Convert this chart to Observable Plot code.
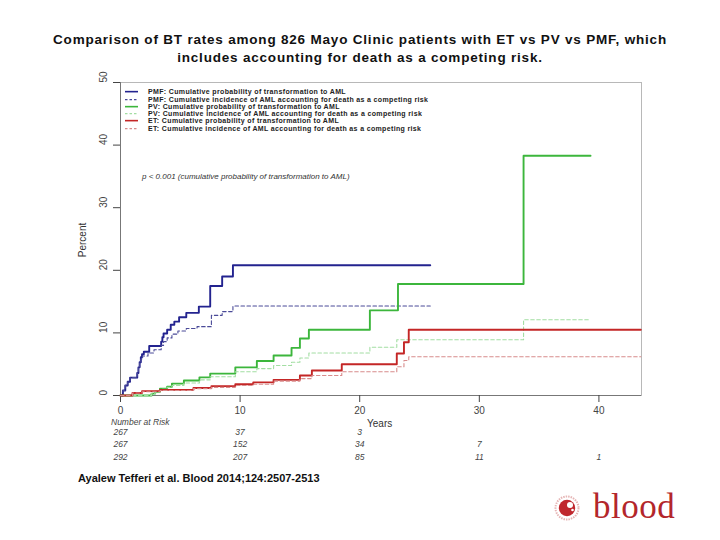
<!DOCTYPE html>
<html>
<head>
<meta charset="utf-8">
<script src="https://cdn.jsdelivr.net/npm/d3@7"></script>
<script src="https://cdn.jsdelivr.net/npm/@observablehq/plot@0.6"></script>
<style>
  body { margin: 0; background: #fff; }
  #wrap { position: relative; width: 720px; height: 540px; overflow: hidden; font-family: "Liberation Sans", Arial, sans-serif; }
  #chart { position: absolute; left: 0; top: 0; }
  .ov { position: absolute; white-space: nowrap; }
  #title { left: 0; top: 31px; width: 720px; text-align: center; font-weight: bold; font-size: 13.5px; letter-spacing: 0.8px; line-height: 18px; color: #111; white-space: normal; }
  #legend { left: 125px; top: 88.3px; font-size: 7px; letter-spacing: 0.35px; font-weight: bold; color: #222; }
  #legend .row { height: 7.3px; line-height: 7.3px; display: flex; align-items: center; }
  #legend svg { margin-right: 10px; flex: none; }
  #pval { left: 142px; top: 171px; font-size: 8px; font-style: italic; color: #333; line-height: 12px; }
  #years { left: 367px; top: 418px; font-size: 10px; color: #333; line-height: 12px; }
  #percent { left: 83px; top: 240px; font-size: 10px; color: #333; transform: translate(-50%, -50%) rotate(-90deg); line-height: 12px; }
  #nar { left: 111px; top: 418px; font-size: 8.5px; font-style: italic; color: #444; line-height: 8.5px; }
  #cite { left: 78px; top: 471px; font-size: 11px; font-weight: bold; color: #111; line-height: 14px; }
  #logo { left: 553px; top: 486px; }
</style>
</head>
<body>
<div id="wrap">
  <div id="chart"></div>
  <div class="ov" id="title">Comparison of BT rates among 826 Mayo Clinic patients with ET vs PV vs PMF, which<br>includes accounting for death as a competing risk.</div>
  <div class="ov" id="legend"></div>
  <div class="ov" id="pval">p &lt; 0.001 (cumulative probability of transformation to AML)</div>
  <div class="ov" id="years">Years</div>
  <div class="ov" id="percent">Percent</div>
  <div class="ov" id="nar">Number at Risk</div>
  <div class="ov" id="cite">Ayalew Tefferi et al. Blood 2014;124:2507-2513</div>
  <div class="ov" id="logo">
    <svg width="160" height="48" viewBox="0 0 160 48">
      <circle cx="14" cy="22" r="11.5" fill="none" stroke="#e6b5b5" stroke-width="2" stroke-dasharray="1.5 1"/>
      <circle cx="14" cy="22" r="8.2" fill="#c0272d"/>
      <circle cx="17" cy="19" r="3" fill="#fff"/>
      <circle cx="19.5" cy="24" r="1.3" fill="#fff"/>
      <text x="40" y="32" font-family="Liberation Serif, 'DejaVu Serif', serif" font-size="35" fill="#b3262b" letter-spacing="0.5">blood</text>
    </svg>
  </div>
</div>
<script>
// ---- Data ----
const yearTicks = [0, 10, 20, 30, 40];
const percentTicks = [0, 10, 20, 30, 40, 50];

// [years, percent] step-function points
const pmfProb = [[0,0],[0.2,0.8],[0.4,1.6],[0.6,2.2],[0.8,2.85],[1.4,3.6],[1.5,4.5],[1.6,5.3],[1.7,6.1],[1.8,6.6],[1.95,7.0],[2.4,7.9],[3.4,8.6],[3.5,9.3],[3.6,9.9],[3.9,10.5],[4.2,11.3],[4.5,11.8],[4.9,12.5],[5.5,13.2],[6.55,14.2],[7.5,17.5],[8.5,19.0],[9.4,20.8],[25.9,20.8]];
const pmfCI   = [[0,0],[0.2,0.8],[0.4,1.6],[0.6,2.2],[0.8,2.85],[1.4,3.6],[1.5,4.4],[1.6,5.2],[1.7,5.8],[1.85,6.3],[2.3,6.8],[2.8,7.3],[3.4,8.0],[3.6,8.6],[3.9,9.2],[4.3,9.8],[4.8,10.3],[5.5,10.7],[6.4,11.0],[7.6,12.8],[8.5,13.4],[9.4,14.3],[25.9,14.3]];
const pvProb  = [[0,0],[2.6,0.3],[2.9,0.6],[3.3,1.1],[3.9,1.4],[4.3,1.9],[5.3,2.4],[6.6,2.9],[7.5,3.5],[9.6,4.5],[11.4,5.5],[12.8,6.4],[14.3,7.6],[15.0,9.1],[15.75,10.5],[20.85,13.6],[23.2,17.8],[33.7,38.3],[39.3,38.3]];
const pvCI    = [[0,0],[2.6,0.3],[2.9,0.6],[3.3,1.0],[3.9,1.3],[4.3,1.6],[5.3,2.0],[6.6,2.5],[7.5,3.0],[9.6,3.8],[11.4,4.3],[12.8,4.8],[14.3,5.3],[15.0,6.0],[15.75,6.8],[20.85,7.7],[23.1,8.9],[33.7,12.1],[39.3,12.1]];
const etProb  = [[0,0],[1.0,0.4],[1.8,0.7],[3.3,0.9],[6.1,1.2],[7.6,1.5],[9.6,1.8],[11.1,2.1],[12.8,2.5],[15.0,3.2],[16.0,4.0],[18.5,5.0],[23.1,6.7],[23.7,8.5],[24.1,10.5],[43.5,10.5]];
const etCI    = [[0,0],[1.0,0.4],[1.8,0.6],[3.3,0.8],[6.1,1.1],[7.6,1.3],[9.6,1.6],[11.1,1.8],[12.8,2.3],[15.0,2.7],[16.0,3.2],[18.5,3.8],[23.1,4.6],[23.7,5.6],[24.1,6.2],[43.5,6.2]];

const seriesNames = [
  "PMF: Cumulative probability of transformation to AML",
  "PMF: Cumulative incidence of AML accounting for death as a competing risk",
  "PV: Cumulative probability of transformation to AML",
  "PV: Cumulative incidence of AML accounting for death as a competing risk",
  "ET: Cumulative probability of transformation to AML",
  "ET: Cumulative incidence of AML accounting for death as a competing risk"
];
const seriesColors = ["#23238f", "#4a4a98", "#3cb63c", "#a3dea3", "#c42626", "#d88c8c"];
const seriesDashed = [false, true, false, true, false, true];
const seriesData = [pmfProb, pmfCI, pvProb, pvCI, etProb, etCI];

// Number at risk
const riskTimes = [0, 10, 20, 30, 40];
const riskPMF = [267, 37, 3];
const riskPV  = [267, 152, 34, 7];
const riskET  = [292, 207, 85, 11, 1];

// ---- Build ----
const toRows = arr => arr.map(([t, p]) => ({t, p}));
const riskRows = arr => arr.map((n, i) => ({t: riskTimes[i], n}));

const lineMarks = seriesData.map((d, i) => Plot.line(toRows(d), {
  x: "t", y: "p", curve: "step-after",
  stroke: seriesColors[i],
  strokeWidth: seriesDashed[i] ? 1.1 : 1.9,
  strokeDasharray: seriesDashed[i] ? "3.5,2.5" : null
}));

const riskStyle = {fontStyle: "italic", fontSize: 8.5, fill: "#444", frameAnchor: "bottom"};

const chart = Plot.plot({
  width: 720, height: 540,
  marginLeft: 120, marginRight: 79, marginTop: 82, marginBottom: 145,
  x: {domain: [0, 43.56]},
  y: {domain: [0, 50]},
  style: {fontFamily: "Liberation Sans, Arial, sans-serif", background: "transparent"},
  marks: [
    Plot.frame({stroke: "#b8b8b8"}),
    Plot.ruleY([0], {stroke: "#777"}),
    Plot.ruleX([0], {stroke: "#777"}),
    Plot.axisX({ticks: yearTicks, tickSize: 7, tickPadding: 4, fontSize: 10, color: "#444", label: null}),
    Plot.axisY({ticks: percentTicks, tickSize: 7, tickFormat: () => "", color: "#444", label: null}),
    Plot.text(percentTicks, {y: d => d, text: d => String(d), frameAnchor: "left", dx: -17, rotate: -90, fontSize: 10, fill: "#444"}),
    ...lineMarks,
    Plot.text(riskRows(riskPMF), {x: "t", text: "n", dy: 39, ...riskStyle}),
    Plot.text(riskRows(riskPV),  {x: "t", text: "n", dy: 51.5, ...riskStyle}),
    Plot.text(riskRows(riskET),  {x: "t", text: "n", dy: 64, ...riskStyle})
  ]
});
document.getElementById("chart").appendChild(chart);

// Legend (HTML)
const legend = document.getElementById("legend");
seriesNames.forEach((name, i) => {
  const row = document.createElement("div");
  row.className = "row";
  row.innerHTML = `<svg width="13" height="7.3"><line x1="0" x2="13" y1="3.65" y2="3.65" stroke="${seriesColors[i]}" stroke-width="${seriesDashed[i] ? 1.1 : 1.6}" ${seriesDashed[i] ? 'stroke-dasharray="2.5,2"' : ''}/></svg><span>${name}</span>`;
  legend.appendChild(row);
});
</script>
</body>
</html>
